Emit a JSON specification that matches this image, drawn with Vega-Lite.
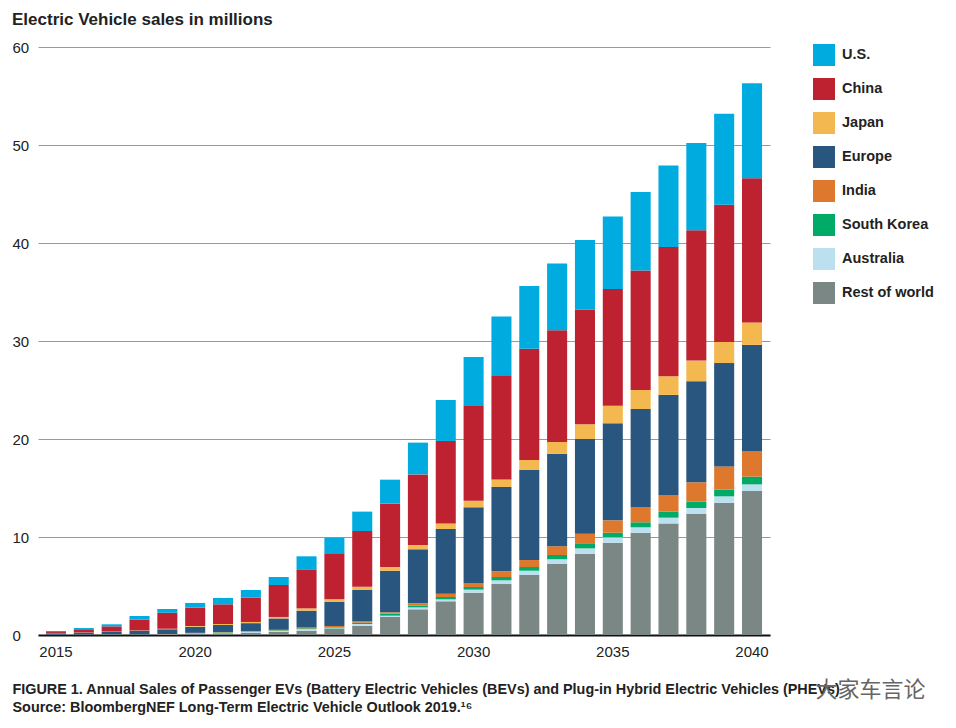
{"$schema":"https://vega.github.io/schema/vega-lite/v6.json","autosize":"none","width":732,"height":588,"padding":{"left":38,"top":47,"right":186,"bottom":93},"background":"white","title":{"text":"Electric Vehicle sales in millions","anchor":"start","frame":"group","dx":-26,"offset":11,"fontSize":17,"fontWeight":"bold","font":"Liberation Sans","color":"#222222"},"config":{"view":{"stroke":null}},"data":{"values":[
{"year":"2015","region":"Rest of world","sales":0.01},{"year":"2015","region":"Australia","sales":0.01},{"year":"2015","region":"South Korea","sales":0.01},{"year":"2015","region":"India","sales":0.01},{"year":"2015","region":"Europe","sales":0.13},{"year":"2015","region":"Japan","sales":0.01},{"year":"2015","region":"China","sales":0.12},{"year":"2015","region":"U.S.","sales":0.11},
{"year":"2016","region":"Rest of world","sales":0.02},{"year":"2016","region":"Australia","sales":0.01},{"year":"2016","region":"South Korea","sales":0.01},{"year":"2016","region":"India","sales":0.01},{"year":"2016","region":"Europe","sales":0.19},{"year":"2016","region":"Japan","sales":0.02},{"year":"2016","region":"China","sales":0.25},{"year":"2016","region":"U.S.","sales":0.2},
{"year":"2017","region":"Rest of world","sales":0.05},{"year":"2017","region":"Australia","sales":0.01},{"year":"2017","region":"South Korea","sales":0.01},{"year":"2017","region":"India","sales":0.01},{"year":"2017","region":"Europe","sales":0.26},{"year":"2017","region":"Japan","sales":0.02},{"year":"2017","region":"China","sales":0.52},{"year":"2017","region":"U.S.","sales":0.21},
{"year":"2018","region":"Rest of world","sales":0.04},{"year":"2018","region":"Australia","sales":0.01},{"year":"2018","region":"South Korea","sales":0.01},{"year":"2018","region":"India","sales":0.01},{"year":"2018","region":"Europe","sales":0.37},{"year":"2018","region":"Japan","sales":0.03},{"year":"2018","region":"China","sales":1.09},{"year":"2018","region":"U.S.","sales":0.38},
{"year":"2019","region":"Rest of world","sales":0.06},{"year":"2019","region":"Australia","sales":0.01},{"year":"2019","region":"South Korea","sales":0.01},{"year":"2019","region":"India","sales":0.02},{"year":"2019","region":"Europe","sales":0.48},{"year":"2019","region":"Japan","sales":0.05},{"year":"2019","region":"China","sales":1.65},{"year":"2019","region":"U.S.","sales":0.37},
{"year":"2020","region":"Rest of world","sales":0.14},{"year":"2020","region":"Australia","sales":0.03},{"year":"2020","region":"South Korea","sales":0.03},{"year":"2020","region":"India","sales":0.02},{"year":"2020","region":"Europe","sales":0.62},{"year":"2020","region":"Japan","sales":0.08},{"year":"2020","region":"China","sales":1.87},{"year":"2020","region":"U.S.","sales":0.48},
{"year":"2021","region":"Rest of world","sales":0.18},{"year":"2021","region":"Australia","sales":0.04},{"year":"2021","region":"South Korea","sales":0.05},{"year":"2021","region":"India","sales":0.03},{"year":"2021","region":"Europe","sales":0.72},{"year":"2021","region":"Japan","sales":0.1},{"year":"2021","region":"China","sales":2.01},{"year":"2021","region":"U.S.","sales":0.65},
{"year":"2022","region":"Rest of world","sales":0.24},{"year":"2022","region":"Australia","sales":0.08},{"year":"2022","region":"South Korea","sales":0.05},{"year":"2022","region":"India","sales":0.04},{"year":"2022","region":"Europe","sales":0.8},{"year":"2022","region":"Japan","sales":0.12},{"year":"2022","region":"China","sales":2.48},{"year":"2022","region":"U.S.","sales":0.78},
{"year":"2023","region":"Rest of world","sales":0.34},{"year":"2023","region":"Australia","sales":0.08},{"year":"2023","region":"South Korea","sales":0.06},{"year":"2023","region":"India","sales":0.05},{"year":"2023","region":"Europe","sales":1.16},{"year":"2023","region":"Japan","sales":0.15},{"year":"2023","region":"China","sales":3.26},{"year":"2023","region":"U.S.","sales":0.82},
{"year":"2024","region":"Rest of world","sales":0.44},{"year":"2024","region":"Australia","sales":0.16},{"year":"2024","region":"South Korea","sales":0.08},{"year":"2024","region":"India","sales":0.08},{"year":"2024","region":"Europe","sales":1.72},{"year":"2024","region":"Japan","sales":0.24},{"year":"2024","region":"China","sales":3.98},{"year":"2024","region":"U.S.","sales":1.33},
{"year":"2025","region":"Rest of world","sales":0.61},{"year":"2025","region":"Australia","sales":0.07},{"year":"2025","region":"South Korea","sales":0.07},{"year":"2025","region":"India","sales":0.17},{"year":"2025","region":"Europe","sales":2.45},{"year":"2025","region":"Japan","sales":0.27},{"year":"2025","region":"China","sales":4.69},{"year":"2025","region":"U.S.","sales":1.6},
{"year":"2026","region":"Rest of world","sales":0.95},{"year":"2026","region":"Australia","sales":0.17},{"year":"2026","region":"South Korea","sales":0.14},{"year":"2026","region":"India","sales":0.13},{"year":"2026","region":"Europe","sales":3.2},{"year":"2026","region":"Japan","sales":0.34},{"year":"2026","region":"China","sales":5.68},{"year":"2026","region":"U.S.","sales":1.98},
{"year":"2027","region":"Rest of world","sales":1.84},{"year":"2027","region":"Australia","sales":0.13},{"year":"2027","region":"South Korea","sales":0.21},{"year":"2027","region":"India","sales":0.13},{"year":"2027","region":"Europe","sales":4.25},{"year":"2027","region":"Japan","sales":0.38},{"year":"2027","region":"China","sales":6.46},{"year":"2027","region":"U.S.","sales":2.45},
{"year":"2028","region":"Rest of world","sales":2.62},{"year":"2028","region":"Australia","sales":0.2},{"year":"2028","region":"South Korea","sales":0.17},{"year":"2028","region":"India","sales":0.24},{"year":"2028","region":"Europe","sales":5.51},{"year":"2028","region":"Japan","sales":0.44},{"year":"2028","region":"China","sales":7.21},{"year":"2028","region":"U.S.","sales":3.24},
{"year":"2029","region":"Rest of world","sales":3.44},{"year":"2029","region":"Australia","sales":0.2},{"year":"2029","region":"South Korea","sales":0.24},{"year":"2029","region":"India","sales":0.34},{"year":"2029","region":"Europe","sales":6.6},{"year":"2029","region":"Japan","sales":0.57},{"year":"2029","region":"China","sales":8.41},{"year":"2029","region":"U.S.","sales":4.18},
{"year":"2030","region":"Rest of world","sales":4.32},{"year":"2030","region":"Australia","sales":0.31},{"year":"2030","region":"South Korea","sales":0.27},{"year":"2030","region":"India","sales":0.41},{"year":"2030","region":"Europe","sales":7.72},{"year":"2030","region":"Japan","sales":0.68},{"year":"2030","region":"China","sales":9.66},{"year":"2030","region":"U.S.","sales":5.0},
{"year":"2031","region":"Rest of world","sales":5.2},{"year":"2031","region":"Australia","sales":0.38},{"year":"2031","region":"South Korea","sales":0.34},{"year":"2031","region":"India","sales":0.58},{"year":"2031","region":"Europe","sales":8.6},{"year":"2031","region":"Japan","sales":0.78},{"year":"2031","region":"China","sales":10.62},{"year":"2031","region":"U.S.","sales":6.0},
{"year":"2032","region":"Rest of world","sales":6.12},{"year":"2032","region":"Australia","sales":0.44},{"year":"2032","region":"South Korea","sales":0.38},{"year":"2032","region":"India","sales":0.71},{"year":"2032","region":"Europe","sales":9.19},{"year":"2032","region":"Japan","sales":1.02},{"year":"2032","region":"China","sales":11.34},{"year":"2032","region":"U.S.","sales":6.4},
{"year":"2033","region":"Rest of world","sales":7.24},{"year":"2033","region":"Australia","sales":0.48},{"year":"2033","region":"South Korea","sales":0.44},{"year":"2033","region":"India","sales":0.89},{"year":"2033","region":"Europe","sales":9.45},{"year":"2033","region":"Japan","sales":1.19},{"year":"2033","region":"China","sales":11.41},{"year":"2033","region":"U.S.","sales":6.8},
{"year":"2034","region":"Rest of world","sales":8.3},{"year":"2034","region":"Australia","sales":0.54},{"year":"2034","region":"South Korea","sales":0.45},{"year":"2034","region":"India","sales":1.05},{"year":"2034","region":"Europe","sales":9.66},{"year":"2034","region":"Japan","sales":1.5},{"year":"2034","region":"China","sales":11.7},{"year":"2034","region":"U.S.","sales":7.1},
{"year":"2035","region":"Rest of world","sales":9.42},{"year":"2035","region":"Australia","sales":0.55},{"year":"2035","region":"South Korea","sales":0.47},{"year":"2035","region":"India","sales":1.26},{"year":"2035","region":"Europe","sales":9.9},{"year":"2035","region":"Japan","sales":1.8},{"year":"2035","region":"China","sales":11.9},{"year":"2035","region":"U.S.","sales":7.4},
{"year":"2036","region":"Rest of world","sales":10.44},{"year":"2036","region":"Australia","sales":0.55},{"year":"2036","region":"South Korea","sales":0.51},{"year":"2036","region":"India","sales":1.5},{"year":"2036","region":"Europe","sales":10.06},{"year":"2036","region":"Japan","sales":1.94},{"year":"2036","region":"China","sales":12.2},{"year":"2036","region":"U.S.","sales":8.0},
{"year":"2037","region":"Rest of world","sales":11.39},{"year":"2037","region":"Australia","sales":0.58},{"year":"2037","region":"South Korea","sales":0.63},{"year":"2037","region":"India","sales":1.69},{"year":"2037","region":"Europe","sales":10.21},{"year":"2037","region":"Japan","sales":1.9},{"year":"2037","region":"China","sales":13.2},{"year":"2037","region":"U.S.","sales":8.3},
{"year":"2038","region":"Rest of world","sales":12.35},{"year":"2038","region":"Australia","sales":0.61},{"year":"2038","region":"South Korea","sales":0.64},{"year":"2038","region":"India","sales":1.98},{"year":"2038","region":"Europe","sales":10.32},{"year":"2038","region":"Japan","sales":2.1},{"year":"2038","region":"China","sales":13.3},{"year":"2038","region":"U.S.","sales":8.9},
{"year":"2039","region":"Rest of world","sales":13.5},{"year":"2039","region":"Australia","sales":0.65},{"year":"2039","region":"South Korea","sales":0.68},{"year":"2039","region":"India","sales":2.37},{"year":"2039","region":"Europe","sales":10.55},{"year":"2039","region":"Japan","sales":2.15},{"year":"2039","region":"China","sales":14.0},{"year":"2039","region":"U.S.","sales":9.3},
{"year":"2040","region":"Rest of world","sales":14.69},{"year":"2040","region":"Australia","sales":0.68},{"year":"2040","region":"South Korea","sales":0.79},{"year":"2040","region":"India","sales":2.62},{"year":"2040","region":"Europe","sales":10.82},{"year":"2040","region":"Japan","sales":2.3},{"year":"2040","region":"China","sales":14.7},{"year":"2040","region":"U.S.","sales":9.7}
]},"mark":{"type":"bar","stroke":null},"encoding":{
"x":{"field":"year","type":"ordinal","scale":{"paddingInner":0.28,"paddingOuter":0.286},"axis":{"values":["2015","2020","2025","2030","2035","2040"],"labelAngle":0,"ticks":false,"domainColor":"#111111","domainWidth":2,"labelFont":"Liberation Sans","labelFontSize":15,"labelColor":"#222222","labelPadding":9,"title":["FIGURE 1. Annual Sales of Passenger EVs (Battery Electric Vehicles (BEVs) and Plug-in Hybrid Electric Vehicles (PHEVs)","Source: BloombergNEF Long-Term Electric Vehicle Outlook 2019.¹⁶"],"titleFont":"Liberation Sans","titleFontSize":14.4,"titleFontWeight":"bold","titleColor":"#222222","titleAlign":"left","titleAnchor":"start","titleBaseline":"alphabetic","titleX":-26,"titleY":58,"titleLineHeight":18}},
"y":{"field":"sales","type":"quantitative","stack":"zero","scale":{"domain":[0,60]},"axis":{"values":[0,10,20,30,40,50,60],"domain":false,"ticks":false,"grid":true,"gridColor":"#999999","gridWidth":1,"labelAlign":"left","labelPadding":26,"labelFont":"Liberation Sans","labelFontSize":15,"labelColor":"#222222","title":"大家车言论","titleFont":"Noto Sans CJK SC","titleFontSize":22,"titleFontWeight":"normal","titleColor":"#666666","titleAngle":0,"titleAlign":"left","titleBaseline":"alphabetic","titleX":777,"titleY":649}},
"color":{"field":"region","type":"nominal","scale":{"domain":["U.S.","China","Japan","Europe","India","South Korea","Australia","Rest of world"],"range":["#00ABE0","#BE2230","#F3B850","#29567F","#DD782D","#00AB67","#BBE1F0","#7B8784"]},"legend":{"orient":"none","legendX":775,"legendY":-3,"title":null,"symbolType":"square","symbolSize":484,"symbolStrokeWidth":0,"symbolOpacity":1,"labelFont":"Liberation Sans","labelFontSize":14.5,"labelFontWeight":"bold","labelColor":"#222222","labelOffset":7,"rowPadding":12,"labelLimit":140}},
"order":{"field":"stackOrder","type":"quantitative"}},"transform":[{"lookup":"region","from":{"data":{"values":[{"r":"Rest of world","stackOrder":1},{"r":"Australia","stackOrder":2},{"r":"South Korea","stackOrder":3},{"r":"India","stackOrder":4},{"r":"Europe","stackOrder":5},{"r":"Japan","stackOrder":6},{"r":"China","stackOrder":7},{"r":"U.S.","stackOrder":8}]},"key":"r","fields":["stackOrder"]}}]}
